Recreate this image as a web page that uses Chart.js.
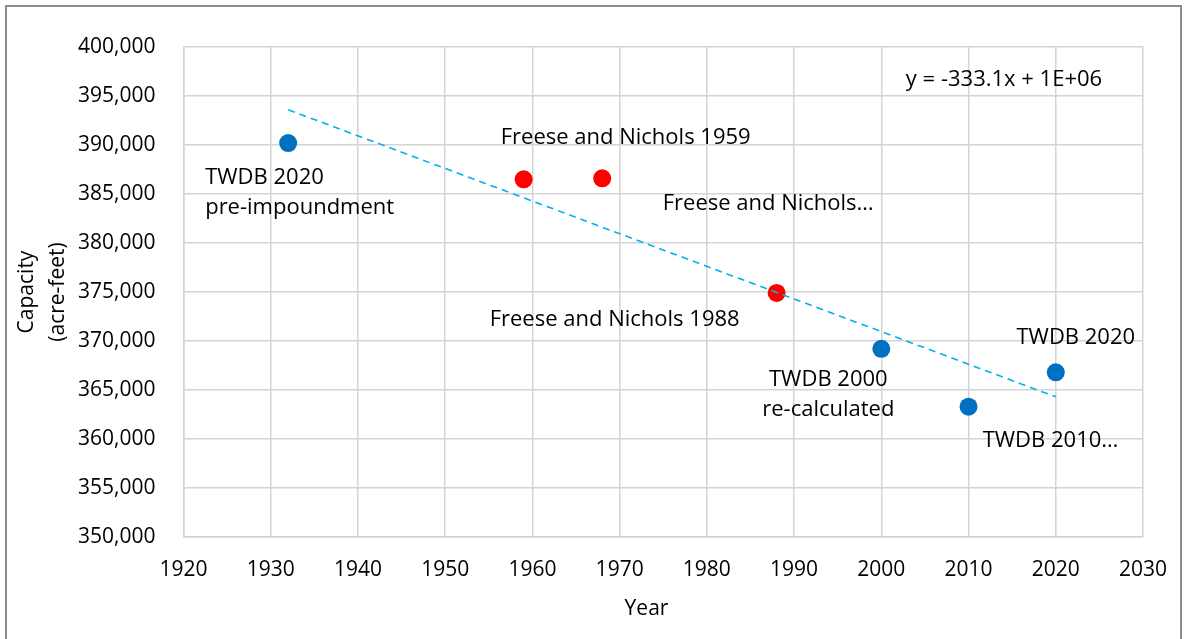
<!DOCTYPE html>
<html lang="en">
<head>
<meta charset="UTF-8">
<title>Capacity vs Year</title>
<script src="https://cdn.jsdelivr.net/npm/chart.js"></script>
<style>
    html, body { margin: 0; padding: 0; background: #fff; overflow: hidden; }
    #wrap { position: relative; width: 1184px; height: 639px; }
    #frame { position: absolute; left: 5px; top: 5px; width: 1177px; height: 700px; border: 2px solid #8c8c8c; box-sizing: border-box; pointer-events: none; }
</style>
</head>
<body>
<div id="wrap">
    <canvas id="chart" width="1184" height="639"></canvas>
    <div id="frame"></div>
</div>
<script>
    // TWDB surveys (blue)
    const twdbYears = [1932, 2000, 2010, 2020];
    const twdbCapacity = [390200, 369200, 363300, 366800];
    const twdbLabels = [['TWDB 2020', 'pre-impoundment'], ['TWDB 2000', 're-calculated'], ['TWDB 2010…'], ['TWDB 2020']];

    // Freese and Nichols surveys (red)
    const fnYears = [1959, 1968, 1988];
    const fnCapacity = [386500, 386600, 374900];
    const fnLabels = [['Freese and Nichols 1959'], ['Freese and Nichols…'], ['Freese and Nichols 1988']];

    // linear trendline endpoints
    const trendYears = [1932, 2020];
    const trendCapacity = [393600, 364300];
    const trendText = 'y = -333.1x + 1E+06';

    const yTitle = ['Capacity', '(acre-feet)'];
    const xTitle = 'Year';

    const FONT = "'Open Sans', sans-serif";
    const TEXT = '#000';

    // label placement relative to its point (px): dx, dy of first line, alignment
    const twdbLabelPos = [
        { dx: -83, dy: 35, align: 'left' },
        { dx: -53, dy: 31, align: 'center' },
        { dx: 82, dy: 34, align: 'center' },
        { dx: 20, dy: -35, align: 'center' }
    ];
    const fnLabelPos = [
        { dx: 102, dy: -42, align: 'center' },
        { dx: 166, dy: 25, align: 'center' },
        { dx: -162, dy: 27, align: 'center' }
    ];

    const toXY = (xs, ys) => xs.map((x, i) => ({ x: x, y: ys[i] }));

    const labelPlugin = {
        id: 'labels',
        afterDatasetsDraw(chart) {
            const ctx = chart.ctx;
            const xs = chart.scales.x, ys = chart.scales.y;
            const area = chart.chartArea;
            ctx.save();
            ctx.fillStyle = TEXT;
            ctx.font = '22px ' + FONT;
            ctx.textBaseline = 'middle';

            function put(years, caps, labels, pos) {
                years.forEach((yr, i) => {
                    const px = xs.getPixelForValue(yr);
                    const py = ys.getPixelForValue(caps[i]);
                    const p = pos[i];
                    ctx.textAlign = p.align;
                    labels[i].forEach((t, j) => {
                        ctx.fillText(t, px + p.dx, py + p.dy + j * 30);
                    });
                });
            }
            put(twdbYears, twdbCapacity, twdbLabels, twdbLabelPos);
            put(fnYears, fnCapacity, fnLabels, fnLabelPos);

            // trendline equation
            ctx.textAlign = 'center';
            ctx.fillText(trendText, area.right - 139, area.top + 33);

            // axis titles
            ctx.font = '21px ' + FONT;
            ctx.fillText(xTitle, area.left + 463, area.bottom + 72);
            ctx.translate(0, (area.top + area.bottom) / 2);
            ctx.rotate(-Math.PI / 2);
            ctx.fillText(yTitle[0], 0, 27);
            ctx.fillText(yTitle[1], 0, 58);
            ctx.restore();
        }
    };

    new Chart(document.getElementById('chart'), {
        type: 'scatter',
        data: {
            datasets: [
                {
                    label: 'Trend',
                    data: toXY(trendYears, trendCapacity),
                    showLine: true,
                    borderColor: '#00B0F0',
                    borderWidth: 1.6,
                    borderDash: [7, 5],
                    pointRadius: 0,
                    fill: false
                },
                {
                    label: 'TWDB',
                    data: toXY(twdbYears, twdbCapacity),
                    backgroundColor: '#0070C0',
                    borderWidth: 0,
                    pointRadius: 9
                },
                {
                    label: 'Freese and Nichols',
                    data: toXY(fnYears, fnCapacity),
                    backgroundColor: '#FF0000',
                    borderWidth: 0,
                    pointRadius: 9
                }
            ]
        },
        options: {
            responsive: false,
            animation: false,
            layout: { padding: { left: 0, top: 47, right: 41, bottom: 0 } },
            plugins: {
                legend: { display: false },
                tooltip: { enabled: false }
            },
            scales: {
                x: {
                    type: 'linear',
                    min: 1920,
                    max: 2030,
                    ticks: {
                        stepSize: 10,
                        padding: 20,
                        color: TEXT,
                        font: { family: FONT, size: 21 },
                        callback: v => String(v)
                    },
                    grid: { color: '#d4d4d4', lineWidth: 1.5, drawTicks: false },
                    border: { color: '#d4d4d4', width: 1.5 },
                    afterFit: s => {
                        s.height = 102;
                        // keep the plot edge fixed, labels may overhang into the layout padding
                        s.paddingLeft = 0;
                        s.paddingRight = 0;
                    }
                },
                y: {
                    min: 350000,
                    max: 400000,
                    ticks: {
                        stepSize: 5000,
                        padding: 28,
                        color: TEXT,
                        font: { family: FONT, size: 21 },
                        callback: v => v.toLocaleString('en-US')
                    },
                    grid: { color: '#d4d4d4', lineWidth: 1.5, drawTicks: false },
                    border: { color: '#d4d4d4', width: 1.5 },
                    afterFit: s => { s.width = 183.5; }
                }
            }
        },
        plugins: [labelPlugin]
    });
</script>
</body>
</html>
